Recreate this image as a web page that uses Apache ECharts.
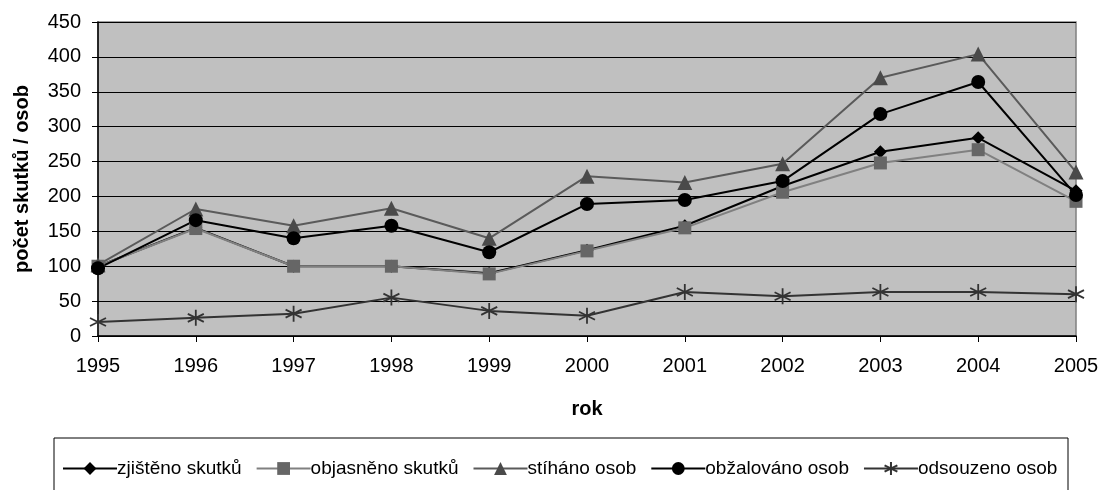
<!DOCTYPE html>
<html>
<head>
<meta charset="utf-8">
<script src="https://cdn.jsdelivr.net/npm/echarts@6/dist/echarts.min.js"></script>
<style>html,body{margin:0;padding:0;background:#fff}#c{width:1102px;height:490px}</style>
</head>
<body>
<div id="c"></div>
<script>
var years = ['1995','1996','1997','1998','1999','2000','2001','2002','2003','2004','2005'];
var zjisteno = [100, 155, 100, 100, 90, 123, 158, 215, 264, 284, 208];
var objasneno = [100, 154, 100, 100, 89, 122, 155, 206, 248, 267, 193];
var stihano = [102, 182, 158, 183, 140, 229, 220, 247, 370, 404, 235];
var obzalovano = [97, 166, 140, 158, 120, 189, 195, 222, 318, 364, 202];
var odsouzeno = [20, 26, 32, 55, 36, 29, 63, 57, 63, 63, 60];
var yTicks = [0, 50, 100, 150, 200, 250, 300, 350, 400, 450];

var starPath = 'path://M0,-10 L0,10 M-8.66,-5 L8.66,5 M-8.66,5 L8.66,-5';
var F = 'Liberation Sans, Arial, sans-serif';

var chart = echarts.init(document.getElementById('c'));
function mk(name, data, lineColor, symbol, size, itemStyle) {
  return {
    name: name, type: 'line', data: data, symbol: symbol, symbolSize: size,
    lineStyle: {color: lineColor, width: 2},
    itemStyle: itemStyle,
    emphasis: {disabled: true}, animation: false
  };
}
chart.setOption({
  animation: false,
  grid: {left: 98, right: 26, top: 22, bottom: 154, show: true, backgroundColor: '#c0c0c0', borderColor: '#808080', borderWidth: 1.5},
  xAxis: {
    type: 'category', data: years, boundaryGap: false,
    name: 'rok', nameLocation: 'middle', nameGap: 63,
    nameTextStyle: {fontFamily: F, fontSize: 20, fontWeight: 'bold', color: '#000'},
    axisLine: {lineStyle: {color: '#000', width: 1.5}},
    axisTick: {show: true, length: 6, lineStyle: {color: '#000'}},
    axisLabel: {fontFamily: F, fontSize: 20, color: '#000', margin: 20},
    splitLine: {show: false}
  },
  yAxis: {
    type: 'value', min: 0, max: 450, interval: 50,
    name: 'počet skutků / osob', nameLocation: 'middle', nameGap: 66, nameRotate: 90,
    nameTextStyle: {fontFamily: F, fontSize: 20, fontWeight: 'bold', color: '#000'},
    axisLine: {show: true, lineStyle: {color: '#000', width: 1.5}},
    axisTick: {show: true, length: 6, lineStyle: {color: '#000'}},
    axisLabel: {fontFamily: F, fontSize: 20, color: '#000', margin: 17,
      formatter: function (v) { return yTicks.indexOf(v) >= 0 ? String(v) : ''; }},
    splitLine: {show: true, lineStyle: {color: '#000', width: 1}}
  },
  legend: {
    left: 57, top: 454, itemWidth: 54, itemHeight: 16, itemGap: 14,
    textStyle: {fontFamily: F, fontSize: 19, color: '#000', padding: [0, 0, 0, -5]},
    data: ['zjištěno skutků', 'objasněno skutků', 'stíháno osob', 'obžalováno osob', 'odsouzeno osob']
  },
  graphic: [{type: 'rect', shape: {x: 54, y: 438, width: 1014, height: 60}, style: {fill: 'none', stroke: '#000', lineWidth: 1}, z: -1}],
  series: [
    mk('zjištěno skutků', zjisteno, '#000', 'diamond', 13, {color: '#000'}),
    mk('objasněno skutků', objasneno, '#808080', 'rect', 13, {color: '#666666'}),
    mk('stíháno osob', stihano, '#5a5a5a', 'triangle', 15, {color: '#4a4a4a'}),
    mk('obžalováno osob', obzalovano, '#000', 'circle', 14, {color: '#000'}),
    mk('odsouzeno osob', odsouzeno, '#333', starPath, 16, {color: 'rgba(0,0,0,0)', borderColor: '#333', borderWidth: 1.8})
  ]
});
</script>
</body>
</html>
